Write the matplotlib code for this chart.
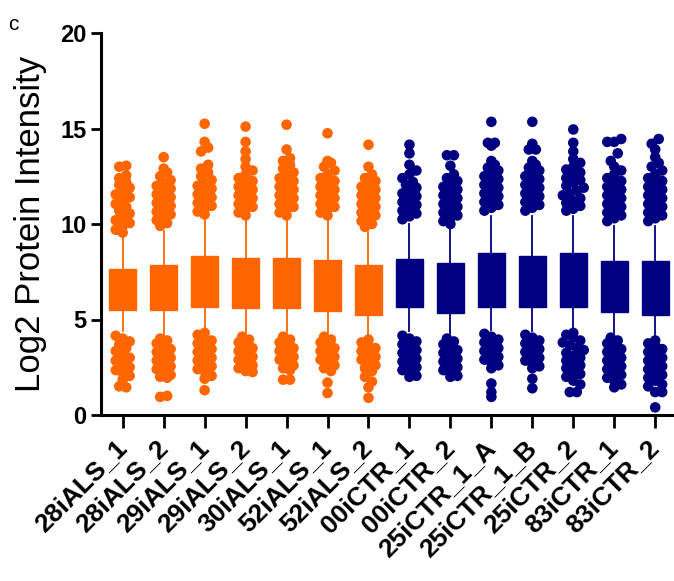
import matplotlib
matplotlib.use("Agg")
import matplotlib.pyplot as plt
from collections import defaultdict

# === Data ===
samples = ["28iALS_1", "28iALS_2", "29iALS_1", "29iALS_2", "30iALS_1", "52iALS_1", "52iALS_2",
           "00iCTR_1", "00iCTR_2", "25iCTR_1_A", "25iCTR_1_B", "25iCTR_2", "83iCTR_1", "83iCTR_2"]
groups = ["ALS"] * 7 + ["CTR"] * 7

q1 = [5.49, 5.49, 5.68, 5.58, 5.58, 5.47, 5.26, 5.67, 5.35, 5.67, 5.67, 5.67, 5.39, 5.26]
q3 = [7.63, 7.84, 8.33, 8.23, 8.23, 8.14, 7.84, 8.16, 7.95, 8.46, 8.33, 8.46, 8.04, 8.04]
medians = [6.5, 6.6, 6.9, 6.8, 6.8, 6.7, 6.5, 6.9, 6.6, 7.0, 6.9, 7.0, 6.7, 6.6]
whisker_lo = [4.38, 4.2, 4.5, 4.3, 4.3, 4.3, 4.12, 4.38, 4.2, 4.47, 4.38, 4.52, 4.3, 4.12]
whisker_hi = [9.33, 9.65, 10.26, 10.17, 10.2, 10.17, 9.58, 10.0, 9.74, 10.44, 10.44, 10.44, 9.9, 9.9]

outliers_hi = [
    [9.55, 9.7, 9.9, 10.05, 10.2, 10.4, 10.55, 10.7, 10.9, 11.05, 11.2, 11.4, 11.55, 11.7, 11.9,
     12.05, 12.2, 12.4, 12.55, 13.0, 13.05],
    [9.9, 10.05, 10.2, 10.35, 10.5, 10.65, 10.8, 10.95, 11.1, 11.25, 11.4, 11.55, 11.7, 11.85,
     12.0, 12.15, 12.3, 12.5, 12.7, 12.9, 13.5],
    [10.5, 10.65, 10.8, 10.95, 11.1, 11.25, 11.4, 11.55, 11.7, 11.85, 12.0, 12.15, 12.3, 12.5,
     12.7, 12.9, 13.1, 13.8, 14.0, 14.3, 15.25],
    [10.45, 10.6, 10.75, 10.9, 11.05, 11.2, 11.35, 11.5, 11.65, 11.8, 11.95, 12.1, 12.25, 12.4,
     12.6, 12.8, 13.0, 13.4, 13.8, 14.3, 15.1],
    [10.45, 10.6, 10.75, 10.9, 11.05, 11.2, 11.35, 11.5, 11.65, 11.8, 11.95, 12.1, 12.25, 12.4,
     12.55, 12.7, 12.9, 13.1, 13.3, 13.45, 13.9, 15.2],
    [10.45, 10.6, 10.75, 10.9, 11.05, 11.2, 11.35, 11.5, 11.65, 11.8, 11.95, 12.1, 12.25, 12.4,
     12.6, 12.8, 13.0, 13.2, 13.3, 14.75],
    [9.85, 10.0, 10.15, 10.3, 10.45, 10.6, 10.75, 10.9, 11.05, 11.2, 11.35, 11.5, 11.65, 11.8,
     11.95, 12.1, 12.25, 12.4, 12.6, 13.0, 14.15],
    [10.25, 10.4, 10.55, 10.7, 10.85, 11.0, 11.15, 11.3, 11.45, 11.6, 11.75, 11.9, 12.05, 12.2,
     12.4, 12.6, 12.8, 13.1, 13.7, 14.15],
    [10.0, 10.15, 10.3, 10.45, 10.6, 10.75, 10.9, 11.05, 11.2, 11.35, 11.5, 11.65, 11.8, 11.95,
     12.1, 12.25, 12.4, 12.6, 13.05, 13.6, 13.6],
    [10.7, 10.85, 11.0, 11.15, 11.3, 11.45, 11.6, 11.75, 11.9, 12.05, 12.2, 12.35, 12.5, 12.65,
     12.8, 12.95, 13.1, 13.3, 14.1, 14.25, 14.25, 15.35],
    [10.7, 10.85, 11.0, 11.15, 11.3, 11.45, 11.6, 11.75, 11.9, 12.05, 12.2, 12.35, 12.5, 12.65,
     12.8, 12.95, 13.1, 13.3, 13.9, 13.9, 14.2, 15.35],
    [10.7, 10.8, 10.95, 11.1, 11.2, 11.35, 11.5, 11.6, 11.75, 11.9, 12.0, 12.15, 12.3, 12.4,
     12.55, 12.7, 12.85, 13.0, 13.2, 13.4, 13.8, 14.25, 14.95],
    [10.15, 10.3, 10.45, 10.6, 10.75, 10.9, 11.05, 11.2, 11.35, 11.5, 11.65, 11.8, 11.95, 12.1,
     12.25, 12.4, 12.6, 12.8, 13.0, 13.3, 13.7, 14.3, 14.3, 14.45],
    [10.15, 10.3, 10.45, 10.6, 10.75, 10.9, 11.05, 11.2, 11.35, 11.5, 11.65, 11.8, 11.95, 12.1,
     12.25, 12.4, 12.6, 12.8, 13.0, 13.2, 13.5, 13.9, 14.2, 14.45],
]

outliers_lo = [
    [4.15, 4.0, 3.85, 3.7, 3.5, 3.35, 3.2, 3.0, 2.85, 2.7, 2.5, 2.35, 2.2, 2.05, 1.85, 1.5, 1.45],
    [4.0, 3.9, 3.75, 3.6, 3.45, 3.3, 3.15, 3.0, 2.85, 2.7, 2.55, 2.4, 2.25, 2.1, 2.0, 1.95, 0.95, 1.0],
    [4.3, 4.2, 4.05, 3.9, 3.75, 3.6, 3.45, 3.3, 3.15, 3.0, 2.85, 2.7, 2.55, 2.4, 2.3, 2.05, 1.9, 1.3],
    [4.1, 3.95, 3.8, 3.65, 3.5, 3.35, 3.2, 3.05, 2.9, 2.75, 2.6, 2.45, 2.3, 2.25],
    [4.1, 3.95, 3.8, 3.65, 3.5, 3.35, 3.2, 3.05, 2.9, 2.75, 2.6, 2.45, 2.35, 1.85, 1.85],
    [4.1, 3.95, 3.8, 3.65, 3.5, 3.35, 3.2, 3.05, 2.9, 2.75, 2.6, 2.45, 2.3, 1.7, 1.15],
    [3.95, 3.8, 3.65, 3.5, 3.35, 3.2, 3.05, 2.9, 2.75, 2.6, 2.45, 2.3, 2.0, 1.75, 1.45, 0.9],
    [4.15, 4.0, 3.85, 3.7, 3.55, 3.4, 3.25, 3.1, 2.95, 2.8, 2.65, 2.5, 2.35, 2.2, 2.05, 2.0],
    [4.0, 3.85, 3.7, 3.55, 3.4, 3.25, 3.1, 2.95, 2.8, 2.65, 2.5, 2.35, 2.2, 2.05, 2.0],
    [4.25, 4.1, 3.95, 3.8, 3.65, 3.5, 3.35, 3.2, 3.05, 2.9, 2.75, 2.6, 2.45, 1.65, 1.2, 0.95],
    [4.2, 4.05, 3.9, 3.75, 3.6, 3.45, 3.3, 3.15, 3.0, 2.85, 2.7, 2.55, 2.45, 1.9, 1.4],
    [4.3, 4.2, 4.05, 3.9, 3.8, 3.65, 3.5, 3.4, 3.25, 3.1, 3.0, 2.85, 2.7, 2.6, 2.45, 2.3, 2.15,
     2.0, 1.8, 1.6, 1.2, 1.2],
    [4.05, 3.9, 3.75, 3.6, 3.45, 3.3, 3.15, 3.0, 2.85, 2.7, 2.55, 2.4, 2.25, 2.1, 1.95, 1.8, 1.6, 1.45],
    [3.9, 3.75, 3.6, 3.45, 3.3, 3.15, 3.0, 2.85, 2.7, 2.55, 2.4, 2.25, 2.1, 1.95, 1.8, 1.6, 1.5,
     1.2, 1.2, 0.4],
]

COLORS = {"ALS": "#FF6600", "CTR": "#000080"}

plt.rcParams["font.family"] = ["Liberation Sans", "DejaVu Sans"]


def row_offsets(values, bin_h=0.45, step=0.17):
    """GraphPad-style scatter: dots in the same row sit side by side."""
    rows = defaultdict(list)
    for k, v in enumerate(values):
        rows[round(v / bin_h)].append(k)
    offs = [0.0] * len(values)
    for idx in rows.values():
        n = len(idx)
        for j, k in enumerate(idx):
            offs[k] = (j - (n - 1) / 2) * step
    return offs


fig = plt.figure(figsize=(6.74, 5.81), dpi=100)
ax = fig.add_axes([101 / 674, 166 / 581, 571 / 674, 382 / 581])

positions = list(range(len(samples)))
ax.set_xlim(-0.53, 13.41)
ax.set_ylim(0, 20)

stats = []
for i in positions:
    stats.append(dict(med=medians[i], q1=q1[i], q3=q3[i],
                      whislo=whisker_lo[i], whishi=whisker_hi[i], fliers=[]))

bp = ax.bxp(stats, positions=positions, widths=0.66, patch_artist=True,
            showfliers=False, showcaps=False)
for i in positions:
    c = COLORS[groups[i]]
    bp["boxes"][i].set(facecolor=c, edgecolor=c, linewidth=1)
    bp["medians"][i].set(color=c, linewidth=1)
    for w in bp["whiskers"][2 * i:2 * i + 2]:
        w.set(color=c, linewidth=1.3)

# dots beyond the whiskers
for i in positions:
    c = COLORS[groups[i]]
    for vals in (outliers_hi[i], outliers_lo[i]):
        offs = row_offsets(vals)
        ax.scatter([i + o for o in offs], vals, s=58, color=c, edgecolors="none",
                   zorder=3, clip_on=False)

for side in ["top", "right"]:
    ax.spines[side].set_visible(False)
for side in ["left", "bottom"]:
    ax.spines[side].set_linewidth(2.2)

ax.set_yticks([0, 5, 10, 15, 20])
ax.tick_params(axis="y", length=7.5, width=2.0, labelsize=17, pad=3)
ax.tick_params(axis="x", length=9, width=2.0, pad=12)
for lab in ax.get_yticklabels():
    lab.set_fontweight("bold")

ax.set_xticks(positions)
ax.set_xticklabels(samples, rotation=45, ha="right", va="center",
                   rotation_mode="anchor", fontsize=19, fontweight="bold")

ax.set_ylabel("Log2 Protein Intensity", fontsize=25)
ax.yaxis.set_label_coords(-0.095, 0.5)

fig.text(0.012, 0.975, "c", fontsize=15, ha="left", va="top")

fig.savefig("out.png", dpi=100)
